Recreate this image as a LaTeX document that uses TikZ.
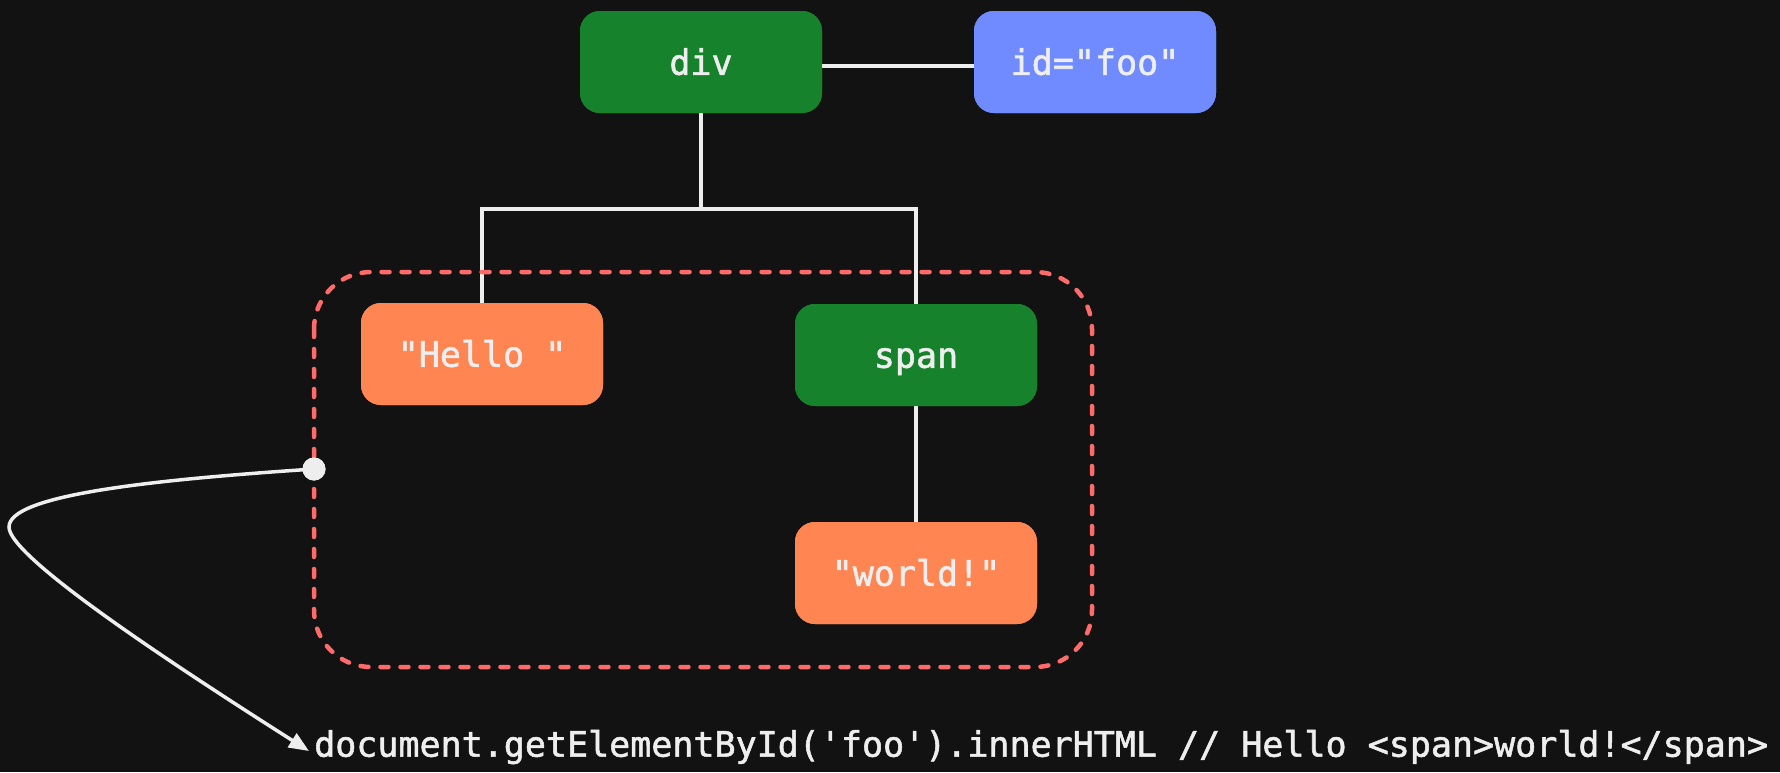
\documentclass[tikz,border=0pt]{standalone}
\usepackage{fontspec}
\newfontfamily\codefont[FakeBold=1.6]{DejaVu Sans Mono}
\usetikzlibrary{arrows.meta}
\definecolor{bg}{HTML}{121212}
\definecolor{elgreen}{HTML}{17822C}
\definecolor{attrblue}{HTML}{6F8BFF}
\definecolor{textorange}{HTML}{FF8552}
\definecolor{selred}{HTML}{FF6B6B}
\definecolor{fg}{HTML}{EEEEEE}
\tikzset{
  box/.style={rounded corners=20pt, minimum width=242pt, minimum height=102pt,
    inner sep=0pt, text=fg, text height=25.5pt, text depth=0pt,
    font=\codefont\fontsize{35}{42}\selectfont},
  elbox/.style={box, fill=elgreen},
  attrbox/.style={box, fill=attrblue},
  txtbox/.style={box, fill=textorange},
  conn/.style={draw=fg, line width=3.5pt},
  selection/.style={draw=selred, line width=4.5pt, dash pattern=on 8pt off 12pt,
    line cap=round, rounded corners=57pt},
  dotnode/.style={circle, fill=fg, minimum size=23pt, inner sep=0pt},
}
\begin{document}
\begin{tikzpicture}[x=1pt, y=-1pt]
\fill[bg] (0,0) rectangle (1780,772);
\useasboundingbox (0,0) rectangle (1780,772);

\node[elbox] (div) at (701,62) {div};
\node[attrbox] (idfoo) at (1095,62) {id="foo"};
\node[txtbox] (hello) at (482,354) {"Hello "};
\node[elbox] (span) at (916,355) {span};
\node[txtbox] (world) at (916,573) {"world!"};
\coordinate (jn) at (701,209);

% connectors
\draw[conn] ([yshift=-4pt]div.east) -- ([yshift=-4pt]idfoo.west);
\draw[conn] (div.south) -- (jn);
\draw[conn] (hello.north) |- (jn) -| (span.north);
\draw[conn] (span.south) -- (world.north);

% selection region
\draw[selection] (314,272) rectangle (1092,667);

% repaint nodes on top
\node[elbox] at (div) {div};
\node[attrbox] at (idfoo) {id="foo"};
\node[txtbox] at (hello) {"Hello "};
\node[elbox] at (span) {span};
\node[txtbox] at (world) {"world!"};

% code line
\node[anchor=west, inner sep=0pt, text=fg, font=\codefont\fontsize{35}{42}\selectfont]
  (code) at (314,747) {document.getElementById('foo').innerHTML // Hello <span>world!</span>};
\coordinate (tip) at (309,751);
\coordinate (bend) at (9,527);

\node[dotnode] (dot) at (314,469) {};
\draw[conn, -{Triangle[length=20pt,width=16pt]}]
  (dot.center) .. controls (150,480) and (9,495) .. (bend)
  .. controls (9,555) and (150,650) .. (tip);
\node[dotnode] at (dot) {};
\end{tikzpicture}
\end{document}
